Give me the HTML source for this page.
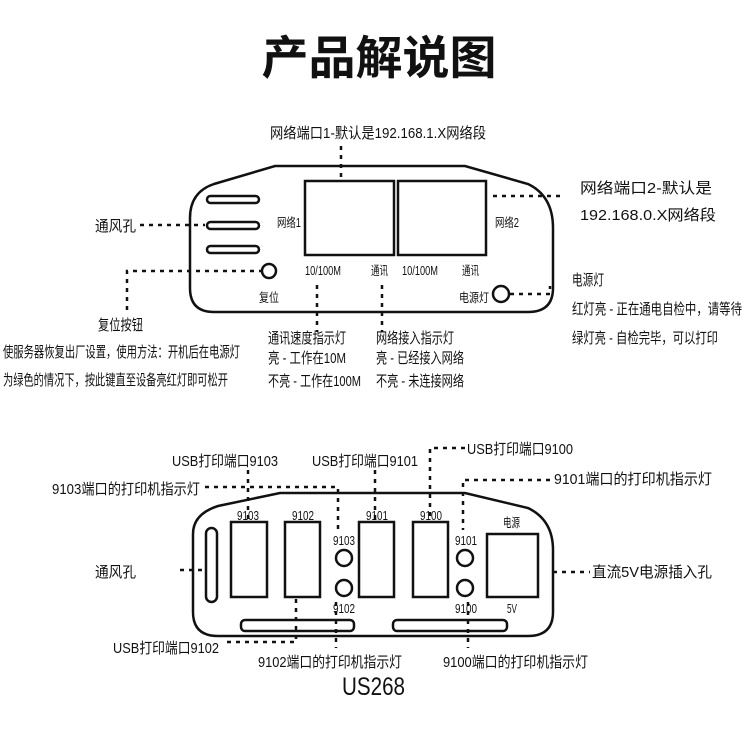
<!DOCTYPE html>
<html><head><meta charset="utf-8"><style>
html,body{margin:0;padding:0;background:#fff;}
svg{display:block;}
text{font-family:"Liberation Sans","Noto Sans CJK SC",sans-serif;fill:#111;}
.t{font-size:15px;}
.s{font-size:12.5px;}
</style></head><body>
<svg width="750" height="750" viewBox="0 0 750 750" xmlns="http://www.w3.org/2000/svg">
<text x="379" y="74" text-anchor="middle" style="font-size:46px;font-weight:bold;font-family:'Noto Sans CJK SC',sans-serif" textLength="235" lengthAdjust="spacingAndGlyphs">产品解说图</text>

<g fill="none" stroke="#111" stroke-width="2.5">
<path d="M275,166 L465,166 L528,184 Q553,196 553,228 L553,288 Q553,312 528,312 L214,312 Q190,312 190,288 L190,218 Q190,192 214,184 Z"/>
<rect x="207" y="196" width="52" height="7" rx="3.5"/>
<rect x="207" y="222" width="52" height="7" rx="3.5"/>
<rect x="207" y="246" width="52" height="7" rx="3.5"/>
<circle cx="269" cy="271" r="7"/>
<rect x="305" y="181" width="89" height="74"/>
<rect x="398" y="181" width="88" height="74"/>
<circle cx="501" cy="294" r="8"/>
<path d="M280,493 L465,493 L528,508 Q553,520 553,550 L553,612 Q553,636 528,636 L218,636 Q193,636 193,612 L193,534 Q193,514 218,506 Z"/>
<rect x="206" y="528" width="11" height="74" rx="5.5"/>
<rect x="231" y="522" width="36" height="75"/>
<rect x="285" y="522" width="35" height="75"/>
<rect x="359" y="522" width="35" height="75"/>
<rect x="413" y="522" width="35" height="75"/>
<rect x="487" y="534" width="51" height="63"/>
<circle cx="344" cy="558" r="8"/>
<circle cx="344" cy="588" r="8"/>
<circle cx="465" cy="558" r="8"/>
<circle cx="465" cy="588" r="8"/>
<rect x="241" y="620" width="113" height="11" rx="4"/>
<rect x="393" y="620" width="114" height="11" rx="4"/>
</g>

<g fill="none" stroke="#111" stroke-width="2.5" stroke-dasharray="4,5">
<line x1="341" y1="146" x2="341" y2="178"/>
<line x1="493" y1="196" x2="565" y2="196"/>
<line x1="140" y1="225" x2="205" y2="225"/>
<polyline points="127,310 127,271 262,271"/>
<line x1="317" y1="285" x2="317" y2="332"/>
<line x1="382" y1="285" x2="382" y2="332"/>
<polyline points="510,294 550,294 550,286"/>
<line x1="248" y1="470" x2="248" y2="520"/>
<polyline points="205,487 338,487 338,530"/>
<line x1="375" y1="470" x2="375" y2="520"/>
<polyline points="465,448 430,448 430,520"/>
<polyline points="550,480 463,480 463,530"/>
<line x1="180" y1="570" x2="205" y2="570"/>
<line x1="553" y1="572" x2="590" y2="572"/>
<polyline points="227,642 296,642 296,598"/>
<line x1="336" y1="602" x2="336" y2="648"/>
<line x1="468" y1="602" x2="468" y2="648"/>
</g>

<text class="s" x="277" y="227" textLength="24" lengthAdjust="spacingAndGlyphs">网络1</text>
<text class="s" x="495" y="227" textLength="24" lengthAdjust="spacingAndGlyphs">网络2</text>
<text class="s" x="305" y="275" textLength="36" lengthAdjust="spacingAndGlyphs">10/100M</text>
<text class="s" x="371" y="275" textLength="17" lengthAdjust="spacingAndGlyphs">通讯</text>
<text class="s" x="402" y="275" textLength="36" lengthAdjust="spacingAndGlyphs">10/100M</text>
<text class="s" x="462" y="275" textLength="17" lengthAdjust="spacingAndGlyphs">通讯</text>
<text class="s" x="259" y="302" textLength="20" lengthAdjust="spacingAndGlyphs">复位</text>
<text class="s" x="459" y="302" textLength="30" lengthAdjust="spacingAndGlyphs">电源灯</text>

<text class="t" x="270" y="138" textLength="216" lengthAdjust="spacingAndGlyphs">网络端口1-默认是192.168.1.X网络段</text>
<text class="t" x="580" y="193" textLength="132" lengthAdjust="spacingAndGlyphs">网络端口2-默认是</text>
<text class="t" x="580" y="220" textLength="136" lengthAdjust="spacingAndGlyphs">192.168.0.X网络段</text>
<text class="t" x="95" y="231" textLength="41" lengthAdjust="spacingAndGlyphs">通风孔</text>
<text class="t" x="98" y="330" textLength="45" lengthAdjust="spacingAndGlyphs">复位按钮</text>
<text class="t" x="3" y="357" textLength="237" lengthAdjust="spacingAndGlyphs">使服务器恢复出厂设置，使用方法：开机后在电源灯</text>
<text class="t" x="3" y="385" textLength="225" lengthAdjust="spacingAndGlyphs">为绿色的情况下，按此键直至设备亮红灯即可松开</text>
<text class="t" x="268" y="343" textLength="78" lengthAdjust="spacingAndGlyphs">通讯速度指示灯</text>
<text class="t" x="268" y="363" textLength="78" lengthAdjust="spacingAndGlyphs">亮 - 工作在10M</text>
<text class="t" x="268" y="386" textLength="93" lengthAdjust="spacingAndGlyphs">不亮 - 工作在100M</text>
<text class="t" x="376" y="343" textLength="78" lengthAdjust="spacingAndGlyphs">网络接入指示灯</text>
<text class="t" x="376" y="363" textLength="88" lengthAdjust="spacingAndGlyphs">亮 - 已经接入网络</text>
<text class="t" x="376" y="386" textLength="88" lengthAdjust="spacingAndGlyphs">不亮 - 未连接网络</text>
<text class="t" x="572" y="285" textLength="32" lengthAdjust="spacingAndGlyphs">电源灯</text>
<text class="t" x="572" y="314" textLength="170" lengthAdjust="spacingAndGlyphs">红灯亮 - 正在通电自检中，请等待</text>
<text class="t" x="572" y="343" textLength="146" lengthAdjust="spacingAndGlyphs">绿灯亮 - 自检完毕，可以打印</text>

<text class="s" x="237" y="520" textLength="22" lengthAdjust="spacingAndGlyphs">9103</text>
<text class="s" x="292" y="520" textLength="22" lengthAdjust="spacingAndGlyphs">9102</text>
<text class="s" x="366" y="520" textLength="22" lengthAdjust="spacingAndGlyphs">9101</text>
<text class="s" x="420" y="520" textLength="22" lengthAdjust="spacingAndGlyphs">9100</text>
<text class="s" x="333" y="545" textLength="22" lengthAdjust="spacingAndGlyphs">9103</text>
<text class="s" x="333" y="613" textLength="22" lengthAdjust="spacingAndGlyphs">9102</text>
<text class="s" x="455" y="545" textLength="22" lengthAdjust="spacingAndGlyphs">9101</text>
<text class="s" x="455" y="613" textLength="22" lengthAdjust="spacingAndGlyphs">9100</text>
<text class="s" x="503" y="527" textLength="17" lengthAdjust="spacingAndGlyphs">电源</text>
<text class="s" x="507" y="613" textLength="10" lengthAdjust="spacingAndGlyphs">5V</text>

<text class="t" x="172" y="466" textLength="106" lengthAdjust="spacingAndGlyphs">USB打印端口9103</text>
<text class="t" x="312" y="466" textLength="106" lengthAdjust="spacingAndGlyphs">USB打印端口9101</text>
<text class="t" x="467" y="454" textLength="106" lengthAdjust="spacingAndGlyphs">USB打印端口9100</text>
<text class="t" x="52" y="494" textLength="148" lengthAdjust="spacingAndGlyphs">9103端口的打印机指示灯</text>
<text class="t" x="554" y="484" textLength="158" lengthAdjust="spacingAndGlyphs">9101端口的打印机指示灯</text>
<text class="t" x="95" y="577" textLength="41" lengthAdjust="spacingAndGlyphs">通风孔</text>
<text class="t" x="592" y="577" textLength="120" lengthAdjust="spacingAndGlyphs">直流5V电源插入孔</text>
<text class="t" x="113" y="653" textLength="106" lengthAdjust="spacingAndGlyphs">USB打印端口9102</text>
<text class="t" x="258" y="667" textLength="144" lengthAdjust="spacingAndGlyphs">9102端口的打印机指示灯</text>
<text class="t" x="443" y="667" textLength="145" lengthAdjust="spacingAndGlyphs">9100端口的打印机指示灯</text>
<text x="342" y="695" style="font-size:25px" textLength="63" lengthAdjust="spacingAndGlyphs">US268</text>
</svg>
</body></html>
